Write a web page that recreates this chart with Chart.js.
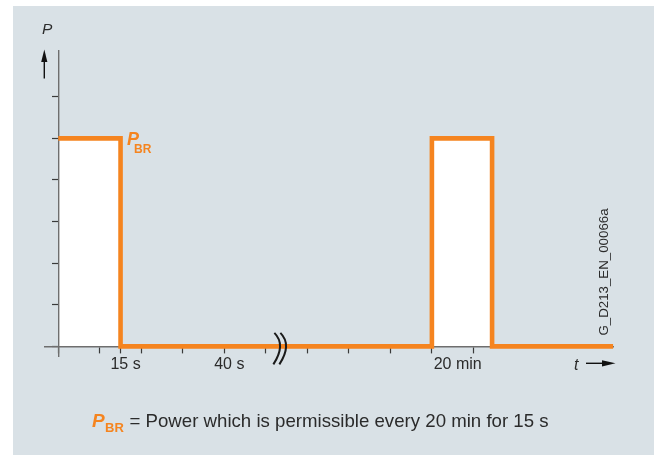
<!DOCTYPE html>
<html>
<head>
<meta charset="utf-8">
<script src="https://cdn.jsdelivr.net/npm/chart.js@4.4.0/dist/chart.umd.min.js"></script>
<style>
	html, body { margin: 0; padding: 0; background: #fff; }
	.wrap { position: relative; width: 654px; height: 455px; overflow: hidden; font-family: "Liberation Sans", Arial, sans-serif; color: #2b2b2b; }
	.panel { position: absolute; left: 13px; top: 6px; right: 0; bottom: 0; background: #d9e1e6; }
	#chart { position: absolute; left: 0; top: 0; }
	.txt { position: absolute; line-height: 1; white-space: nowrap; }
	.orange { color: #f5841f; font-weight: bold; }
</style>
</head>
<body>
<div class="wrap">
	<div class="panel"></div>
	<canvas id="chart" width="654" height="455"></canvas>

	<span class="txt" style="left:42px; top:21px; font-size:15.5px; font-style:italic;">P</span>
	<span class="txt orange" style="left:127px; top:129.5px; font-size:18px; font-style:italic;">P</span>
	<span class="txt orange" style="left:134px; top:142.5px; font-size:12px;">BR</span>
	<span class="txt" style="left:574px; top:356.5px; font-size:16px; font-style:italic;">t</span>
	<span class="txt" style="left:604px; top:271.5px; font-size:13.3px; transform: translate(-50%, -50%) rotate(-90deg); transform-origin: center;">G_D213_EN_00066a</span>

	<span class="txt orange" style="left:92px; top:411px; font-size:19px; font-style:italic;">P</span>
	<span class="txt orange" style="left:105px; top:420.5px; font-size:13px;">BR</span>
	<span class="txt" style="left:129.5px; top:411.5px; font-size:18.65px;">= Power which is permissible every 20 min for 15 s</span>
</div>

<script>
// power pulse (x in tick units, 1 unit = one tick step)
const timeValues  = [0, 1.5, 1.5, 9, 9, 10.45, 10.45, 13.37];
const powerValues = [5, 5,   0,   0, 5, 5,     0,     0];

const xTickValues = [0, 1, 1.5, 2, 3, 4, 5, 6, 7, 8, 9, 10];
const xLabelValues = [1.5, 4, 9.5];
const xLabelTexts = ['15 s', '40 s', '20 min'];
const yTickValues = [0, 1, 2, 3, 4, 5, 6];
const breakValue = 5.35;

const ORANGE = '#f5841f';
const AXIS = '#6e6e6e';

const allXTicks = Array.from(new Set(xTickValues.concat(xLabelValues))).sort((a, b) => a - b);

const decorations = {
	id: 'decorations',
	afterDraw(chart) {
		const ctx = chart.ctx;
		const xs = chart.scales.x, ys = chart.scales.y;
		ctx.save();
		ctx.fillStyle = '#111';
		ctx.strokeStyle = '#111';

		// y axis arrow
		ctx.lineWidth = 1.4;
		ctx.beginPath();
		ctx.moveTo(44.3, 78.5);
		ctx.lineTo(44.3, 60);
		ctx.stroke();
		ctx.beginPath();
		ctx.moveTo(44.3, 49.5);
		ctx.lineTo(41.2, 62);
		ctx.lineTo(47.4, 62);
		ctx.closePath();
		ctx.fill();

		// t arrow
		ctx.beginPath();
		ctx.moveTo(586, 363.3);
		ctx.lineTo(605, 363.3);
		ctx.stroke();
		ctx.beginPath();
		ctx.moveTo(615.5, 363.3);
		ctx.lineTo(602, 360.2);
		ctx.lineTo(602, 366.4);
		ctx.closePath();
		ctx.fill();

		// axis break
		const bx = xs.getPixelForValue(breakValue);
		const by = ys.getPixelForValue(0);
		ctx.lineWidth = 2;
		ctx.strokeStyle = '#1a1a1a';
		[-3.5, 2.5].forEach(dx => {
			const x0 = bx + dx;
			ctx.beginPath();
			ctx.moveTo(x0 - 2.5, by - 13.5);
			ctx.bezierCurveTo(x0 + 5, by - 6, x0 + 5, by + 5, x0 - 3.5, by + 18);
			ctx.stroke();
		});
		ctx.restore();
	}
};

new Chart(document.getElementById('chart'), {
	type: 'line',
	data: {
		datasets: [{
			data: timeValues.map((t, i) => ({ x: t, y: powerValues[i] })),
			borderColor: ORANGE,
			borderWidth: 4.6,
			borderJoinStyle: 'miter',
			borderCapStyle: 'butt',
			backgroundColor: '#ffffff',
			fill: 'origin',
			pointRadius: 0,
			tension: 0
		}]
	},
	options: {
		responsive: false,
		animation: false,
		events: [],
		layout: { padding: { left: 45, right: 40.7, top: 51, bottom: 98.2 } },
		plugins: {
			legend: { display: false },
			tooltip: { enabled: false },
			filler: { drawTime: 'beforeDraw' }
		},
		scales: {
			x: {
				type: 'linear',
				min: -0.32,
				max: 13.37,
				position: { y: 0 },
				border: { color: AXIS, width: 1.4 },
				grid: {
					drawOnChartArea: false,
					tickLength: 6,
					tickWidth: 1.2,
					tickColor: c => xTickValues.includes(c.tick.value) ? '#3a3a3a' : 'rgba(0,0,0,0)'
				},
				afterBuildTicks: s => { s.ticks = allXTicks.map(v => ({ value: v })); },
				ticks: {
					autoSkip: false,
					maxRotation: 0,
					padding: 3,
					labelOffset: 5,
					color: '#2b2b2b',
					font: { family: 'Liberation Sans', size: 16 },
					callback: v => {
						const i = xLabelValues.indexOf(v);
						return i >= 0 ? xLabelTexts[i] : '';
					}
				}
			},
			y: {
				type: 'linear',
				min: -0.25,
				max: 7.1,
				position: { x: 0 },
				border: { color: AXIS, width: 1.4 },
				grid: { drawOnChartArea: false, tickLength: 6, tickWidth: 1.2, tickColor: '#3a3a3a' },
				afterBuildTicks: s => { s.ticks = yTickValues.map(v => ({ value: v })); },
				ticks: { display: false }
			}
		}
	},
	plugins: [decorations]
});
</script>
</body>
</html>
